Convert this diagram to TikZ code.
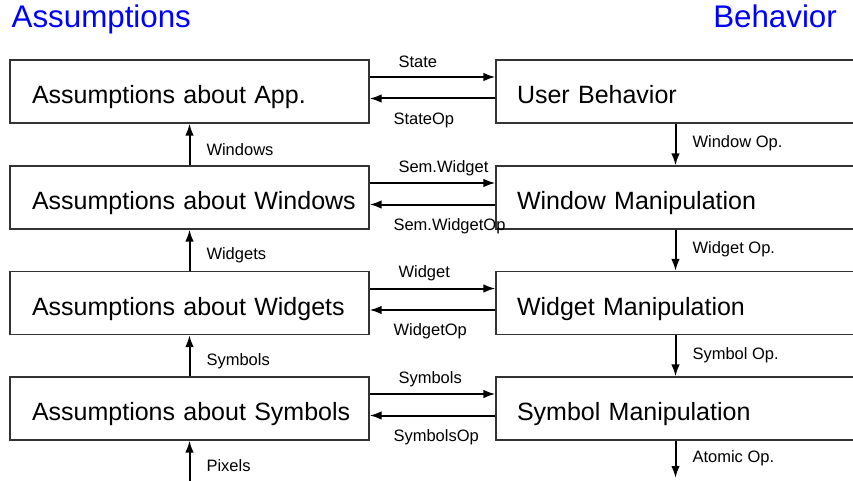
\documentclass[tikz,border=0pt]{standalone}
\usepackage{fontspec}
\setmainfont{Liberation Sans}
\usetikzlibrary{arrows.meta}

\begin{document}
\begin{tikzpicture}[x=1pt,y=-1pt]
        \tikzstyle{box}=[rectangle, draw=black!80, line width=1.1pt, inner xsep=0pt, minimum height=63pt, text width=359pt, align=left, text height=24pt, text depth=0pt, font=\fontsize{25}{30}\selectfont]
        \tikzstyle{flow}=[line width=2pt, -{Latex[length=12pt,width=8.5pt]}]
        \tikzstyle{lbl}=[inner sep=0pt, font=\fontsize{16.5}{20}\selectfont]
        \tikzstyle{title}=[inner sep=0pt, text=blue, font=\fontsize{31.3}{36}\selectfont]

        \useasboundingbox (0,0) rectangle (853,481);

        \node[title, anchor=base west] (ta) at (11.5,28) {Assumptions};
        \node[title, anchor=base east] (tb) at (837,28) {Behavior};

        \node[box] (app) at (189.5,91.5) {\hspace*{22pt}Assumptions about App.};
        \node[box] (win) at (189.5,197.5) {\hspace*{22pt}Assumptions about Windows};
        \node[box] (wid) at (189.5,303) {\hspace*{22pt}Assumptions about Widgets};
        \node[box] (sym) at (189.5,408.5) {\hspace*{22pt}Assumptions about Symbols};

        \node[box] (user) at (675.5,91.5) {\hspace*{21pt}User Behavior};
        \node[box] (winm) at (675.5,197.5) {\hspace*{21pt}Window Manipulation};
        \node[box] (widm) at (675.5,303) {\hspace*{21pt}Widget Manipulation};
        \node[box] (symm) at (675.5,408.5) {\hspace*{21pt}Symbol Manipulation};

        \coordinate (pix) at (189.5,481);
        \coordinate (atom) at (675.5,478);

        % left column, going up
        \draw[flow] (win.north) -- (app.south) node[lbl, midway, anchor=west, xshift=16pt, yshift=-5pt] {Windows};
        \draw[flow] (wid.north) -- (win.south) node[lbl, midway, anchor=west, xshift=16pt, yshift=-5pt] {Widgets};
        \draw[flow] (sym.north) -- (wid.south) node[lbl, midway, anchor=west, xshift=16pt, yshift=-5pt] {Symbols};
        \draw[flow] (pix) -- (sym.south) node[lbl, midway, anchor=west, xshift=16pt, yshift=-5pt] {Pixels};

        % right column, going down
        \draw[flow] (user.south) -- (winm.north) node[lbl, midway, anchor=west, xshift=16pt, yshift=1pt] {Window Op.};
        \draw[flow] (winm.south) -- (widm.north) node[lbl, midway, anchor=west, xshift=16pt, yshift=1pt] {Widget Op.};
        \draw[flow] (widm.south) -- (symm.north) node[lbl, midway, anchor=west, xshift=16pt, yshift=1pt] {Symbol Op.};
        \draw[flow] (symm.south) -- (atom) node[lbl, midway, anchor=west, xshift=16pt, yshift=1pt] {Atomic Op.};

        % between the columns
        \draw[flow] ([yshift=14.5pt]app.east) -- ([yshift=14.5pt]user.west) node[lbl, pos=0, anchor=west, xshift=28pt, yshift=15pt] {State};
        \draw[flow] ([yshift=-7pt]user.west) -- ([yshift=-7pt]app.east) node[lbl, pos=1, anchor=west, xshift=23pt, yshift=-21.5pt] {StateOp};
        \draw[flow] ([yshift=14.5pt]win.east) -- ([yshift=14.5pt]winm.west) node[lbl, pos=0, anchor=west, xshift=28pt, yshift=15pt] {Sem.Widget};
        \draw[flow] ([yshift=-7pt]winm.west) -- ([yshift=-7pt]win.east) node[lbl, pos=1, anchor=west, xshift=23pt, yshift=-21.5pt] {Sem.WidgetOp};
        \draw[flow] ([yshift=14.5pt]wid.east) -- ([yshift=14.5pt]widm.west) node[lbl, pos=0, anchor=west, xshift=28pt, yshift=15pt] {Widget};
        \draw[flow] ([yshift=-7pt]widm.west) -- ([yshift=-7pt]wid.east) node[lbl, pos=1, anchor=west, xshift=23pt, yshift=-21.5pt] {WidgetOp};
        \draw[flow] ([yshift=14.5pt]sym.east) -- ([yshift=14.5pt]symm.west) node[lbl, pos=0, anchor=west, xshift=28pt, yshift=15pt] {Symbols};
        \draw[flow] ([yshift=-7pt]symm.west) -- ([yshift=-7pt]sym.east) node[lbl, pos=1, anchor=west, xshift=23pt, yshift=-21.5pt] {SymbolsOp};
\end{tikzpicture}
\end{document}
